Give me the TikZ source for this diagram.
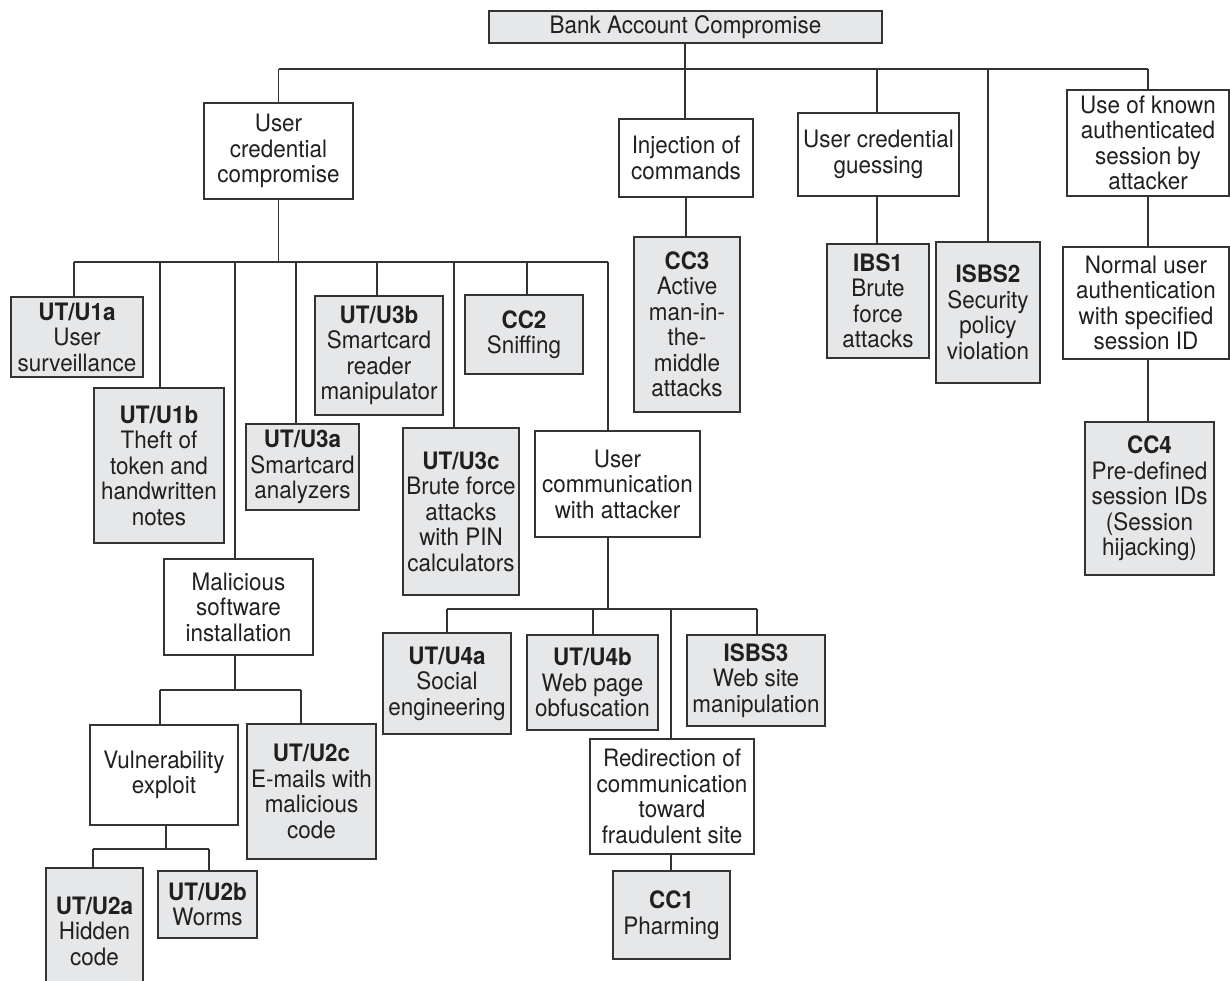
\documentclass[tikz,border=0pt]{standalone}
\usepackage{fontspec}
\setmainfont{TeX Gyre Heros}[FakeStretch=0.935]
\definecolor{linec}{HTML}{333333}
\definecolor{boxgray}{HTML}{E6E7E8}
\definecolor{txtc}{HTML}{231F20}
\newcommand\bx[7]{\node[#1, minimum width={#5-#3}, minimum height={#6-#4}] (#2) at ({(#3+#5)/2},{(#4+#6)/2}) {#7};}
\tikzset{
  wbox/.style={draw=linec, line width=1.5pt, fill=white, align=center, inner sep=0pt, text=txtc,
    font=\fontsize{24}{25.5}\selectfont},
  gbox/.style={wbox, fill=boxgray},
  conn/.style={draw=linec, line width=1.5pt}
}
\begin{document}
\begin{tikzpicture}[x=1pt, y=-1pt]
\useasboundingbox (0,0) rectangle (1230,981);
\clip (0,0) rectangle (1230,981);
% nodes
\bx{gbox}{root}{489}{11}{882}{43}{Bank Account Compromise}
\bx{wbox}{ucc}{204}{103}{353}{199}{User\\credential\\compromise}
\bx{wbox}{inj}{619}{119}{753}{197}{Injection of\\commands}
\bx{wbox}{ucg}{798}{113}{959}{196}{User credential\\guessing}
\bx{gbox}{isbs2}{936}{242}{1040}{383}{\textbf{ISBS2}\\Security\\policy\\violation}
\bx{wbox}{ukas}{1067}{90}{1229}{196}{Use of known\\authenticated\\session by\\attacker}
\bx{gbox}{cc3}{634}{237}{740}{412}{\textbf{CC3}\\Active\\man-in-\\the-\\middle\\attacks}
\bx{gbox}{ibs1}{827}{244}{929}{358}{\textbf{IBS1}\\Brute\\force\\attacks}
\bx{wbox}{nua}{1063}{247}{1229}{359}{Normal user\\authentication\\with specified\\session ID}
\bx{gbox}{cc4}{1085}{422}{1214}{575}{\textbf{CC4}\\Pre-defined\\session IDs\\(Session\\hijacking)}
\bx{gbox}{u1a}{11}{297}{143}{377}{\textbf{UT/U1a}\\User\\surveillance}
\bx{gbox}{u1b}{94}{388}{224}{543}{\textbf{UT/U1b}\\Theft of\\token and\\handwritten\\notes}
\bx{wbox}{mal}{164}{559}{313}{655}{Malicious\\software\\installation}
\bx{gbox}{u3a}{246}{424}{359}{510}{\textbf{UT/U3a}\\Smartcard\\analyzers}
\bx{gbox}{u3b}{315}{296}{443}{415}{\textbf{UT/U3b}\\Smartcard\\reader\\manipulator}
\bx{gbox}{u3c}{403}{428}{519}{595}{\textbf{UT/U3c}\\Brute force\\attacks\\with PIN\\calculators}
\bx{gbox}{cc2}{465}{295}{583}{374}{\textbf{CC2}\\Sniffing}
\bx{wbox}{ucomm}{535}{431}{700}{537}{User\\communication\\with attacker}
\bx{gbox}{u4a}{383}{633}{511}{734}{\textbf{UT/U4a}\\Social\\engineering}
\bx{gbox}{u4b}{527}{635}{658}{730}{\textbf{UT/U4b}\\Web page\\obfuscation}
\bx{gbox}{isbs3}{687}{635}{825}{726}{\textbf{ISBS3}\\Web site\\manipulation}
\bx{wbox}{redir}{590}{739}{754}{854}{Redirection of\\communication\\toward\\fraudulent site}
\bx{gbox}{cc1}{613}{871}{730}{959}{\textbf{CC1}\\Pharming}
\bx{wbox}{vuln}{90}{725}{238}{825}{Vulnerability\\exploit}
\bx{gbox}{u2c}{247}{724}{376}{859}{\textbf{UT/U2c}\\E-mails with\\malicious\\code}
\bx{gbox}{u2a}{46}{868}{143}{994}{\textbf{UT/U2a}\\Hidden\\code}
\bx{gbox}{u2b}{158}{871}{257}{938}{\textbf{UT/U2b}\\Worms}
% junction coordinates
\coordinate (t0) at (685,69);
\coordinate (tL) at (278.5,69);
\coordinate (tR) at (1148,69);
\coordinate (t3) at (877,69);
\coordinate (t4) at (988,69);
\coordinate (c0) at (278.5,262);
\coordinate (c1) at (74,262);
\coordinate (c2) at (160,262);
\coordinate (c3) at (235,262);
\coordinate (c4) at (296,262);
\coordinate (c5) at (377,262);
\coordinate (c6) at (454,262);
\coordinate (c7) at (527,262);
\coordinate (c8) at (608,262);
\coordinate (m0) at (608,609);
\coordinate (m1) at (447,609);
\coordinate (m2) at (593,609);
\coordinate (m3) at (671,609);
\coordinate (m4) at (757,609);
\coordinate (s0) at (235,690);
\coordinate (s1) at (160,690);
\coordinate (s2) at (301,690);
\coordinate (v0) at (166,849);
\coordinate (v1) at (93,849);
\coordinate (v2) at (209,849);
% connectors
\draw[conn] (root.south -| t0) -- (t0);
\draw[conn] (tL) -- (tR);
\draw[conn] (tL) -- (ucc.north);
\draw[conn] (t0) -- (t0 |- inj.north);
\draw[conn] (t3) -- (t3 |- ucg.north);
\draw[conn] (t4) -- (t4 |- isbs2.north);
\draw[conn] (tR) -- (tR |- ukas.north);
\draw[conn] (inj.south) -- (inj.south |- cc3.north);
\draw[conn] (ucg.south -| t3) -- (t3 |- ibs1.north);
\draw[conn] (ukas.south -| tR) -- (tR |- nua.north);
\draw[conn] (nua.south -| tR) -- (tR |- cc4.north);
\draw[conn] (ucc.south) -- (c0);
\draw[conn] (c1) -- (c8);
\draw[conn] (c1) -- (c1 |- u1a.north);
\draw[conn] (c2) -- (c2 |- u1b.north);
\draw[conn] (c3) -- (c3 |- mal.north);
\draw[conn] (c4) -- (c4 |- u3a.north);
\draw[conn] (c5) -- (c5 |- u3b.north);
\draw[conn] (c6) -- (c6 |- u3c.north);
\draw[conn] (c7) -- (c7 |- cc2.north);
\draw[conn] (c8) -- (c8 |- ucomm.north);
\draw[conn] (ucomm.south -| m0) -- (m0);
\draw[conn] (m1) -- (m4);
\draw[conn] (m1) -- (m1 |- u4a.north);
\draw[conn] (m2) -- (m2 |- u4b.north);
\draw[conn] (m3) -- (m3 |- redir.north);
\draw[conn] (m4) -- (m4 |- isbs3.north);
\draw[conn] (redir.south -| m3) -- (m3 |- cc1.north);
\draw[conn] (mal.south -| s0) -- (s0);
\draw[conn] (s1) -- (s2);
\draw[conn] (s1) -- (s1 |- vuln.north);
\draw[conn] (s2) -- (s2 |- u2c.north);
\draw[conn] (vuln.south -| v0) -- (v0);
\draw[conn] (v1) -- (v2);
\draw[conn] (v1) -- (v1 |- u2a.north);
\draw[conn] (v2) -- (v2 |- u2b.north);
\end{tikzpicture}
\end{document}
